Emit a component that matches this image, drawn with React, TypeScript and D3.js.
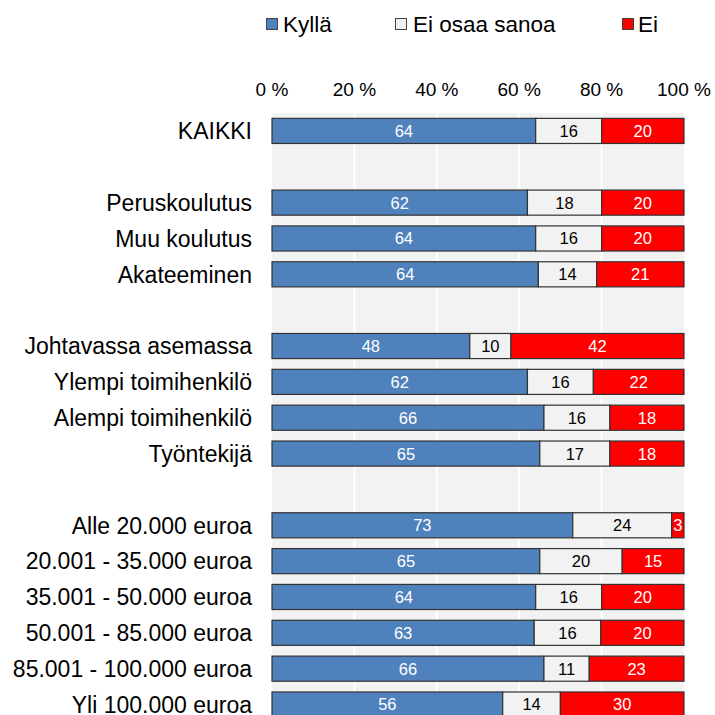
import React from 'react';
import * as d3 from 'd3';

// rows, "" marks an empty spacer row
const categories = [
  "KAIKKI", "",
  "Peruskoulutus", "Muu koulutus", "Akateeminen", "",
  "Johtavassa asemassa", "Ylempi toimihenkilö", "Alempi toimihenkilö", "Työntekijä", "",
  "Alle 20.000 euroa", "20.001 - 35.000 euroa", "35.001 - 50.000 euroa",
  "50.001 - 85.000 euroa", "85.001 - 100.000 euroa", "Yli 100.000 euroa"
];
const seriesNames = ["Kyllä", "Ei osaa sanoa", "Ei"];
const kylla = [64, null, 62, 64, 64, null, 48, 62, 66, 65, null, 73, 65, 64, 63, 66, 56];
const eiOsaa = [16, null, 18, 16, 14, null, 10, 16, 16, 17, null, 24, 20, 16, 16, 11, 14];
const ei = [20, null, 20, 20, 21, null, 42, 22, 18, 18, null, 3, 15, 20, 20, 23, 30];
const xTicks = [0, 20, 40, 60, 80, 100];

const colors = ["#4f81bd", "#f2f2f2", "#ff0000"];
const labelColors = ["#ffffff", "#000000", "#ffffff"];

const width = 715;
const height = 715;
const margin = { top: 113, left: 272, right: 31 };
const rowStep = 35.85;
const font = "'Liberation Sans', Arial, sans-serif";

export default function App() {
  const rows = categories.map((c, i) => ({
    i,
    label: c,
    vals: [kylla[i], eiOsaa[i], ei[i]],
  }));
  const dataRows = rows.filter(r => r.vals[0] != null);

  const x = d3.scaleLinear()
    .domain([0, 1])
    .range([margin.left, width - margin.right]);

  const y = d3.scaleBand<number>()
    .domain(d3.range(categories.length))
    .range([margin.top, margin.top + rowStep * categories.length])
    .paddingInner(0.3)
    .paddingOuter(0.15);

  // stacked to 100 %
  const stack = d3.stack<any>()
    .keys(["0", "1", "2"])
    .value((d, k) => d.vals[+k] as number)
    .offset(d3.stackOffsetExpand);
  const series = stack(dataRows);

  const plotBottom = margin.top + rowStep * categories.length;

  const legendItems = [
    { x: 266, textX: 283 },
    { x: 395, textX: 413 },
    { x: 622, textX: 638 },
  ];

  return (
    <svg width={width} height={height}
      style={{ position: 'absolute', left: 0, top: 0, background: '#fff' }}
      fontFamily={font}>
      {/* legend */}
      {seriesNames.map((name, k) => (
        <g key={name}>
          <rect x={legendItems[k].x + 0.5} y={18.5} width={11} height={11}
            fill={colors[k]} stroke="#404040" strokeWidth={1} />
          <text x={legendItems[k].textX} y={31.5} fontSize={22.5} fill="#000">{name}</text>
        </g>
      ))}

      {/* plot area */}
      <rect x={x(0)} y={margin.top} width={x(1) - x(0)} height={plotBottom - margin.top} fill="#f2f2f2" />
      {xTicks.map(t => (
        <g key={t}>
          {t > 0 && t < 100 && (
            <line x1={x(t / 100)} x2={x(t / 100)} y1={margin.top} y2={plotBottom}
              stroke="#ffffff" strokeWidth={2} />
          )}
          <text x={x(t / 100)} y={96} textAnchor="middle" fontSize={19} fill="#000">{t} %</text>
        </g>
      ))}

      {/* category labels */}
      {rows.map(r => r.label && (
        <text key={r.i} x={252} y={(y(r.i) as number) + y.bandwidth() / 2}
          dy="0.36em" textAnchor="end" fontSize={23} fill="#000">{r.label}</text>
      ))}

      {/* bars */}
      {series.map((s, k) => (
        <g key={k}>
          {s.map((d, j) => {
            const r = dataRows[j];
            const x0 = x(d[0]);
            const x1 = x(d[1]);
            const yy = y(r.i) as number;
            return (
              <g key={r.i}>
                <rect x={x0} y={yy} width={x1 - x0} height={y.bandwidth()}
                  fill={colors[k]} stroke="#333" strokeWidth={1.2} />
                <text x={(x0 + x1) / 2} y={yy + y.bandwidth() / 2} dy="0.36em"
                  textAnchor="middle" fontSize={16.5} fill={labelColors[k]}>{r.vals[k]}</text>
              </g>
            );
          })}
        </g>
      ))}
    </svg>
  );
}
